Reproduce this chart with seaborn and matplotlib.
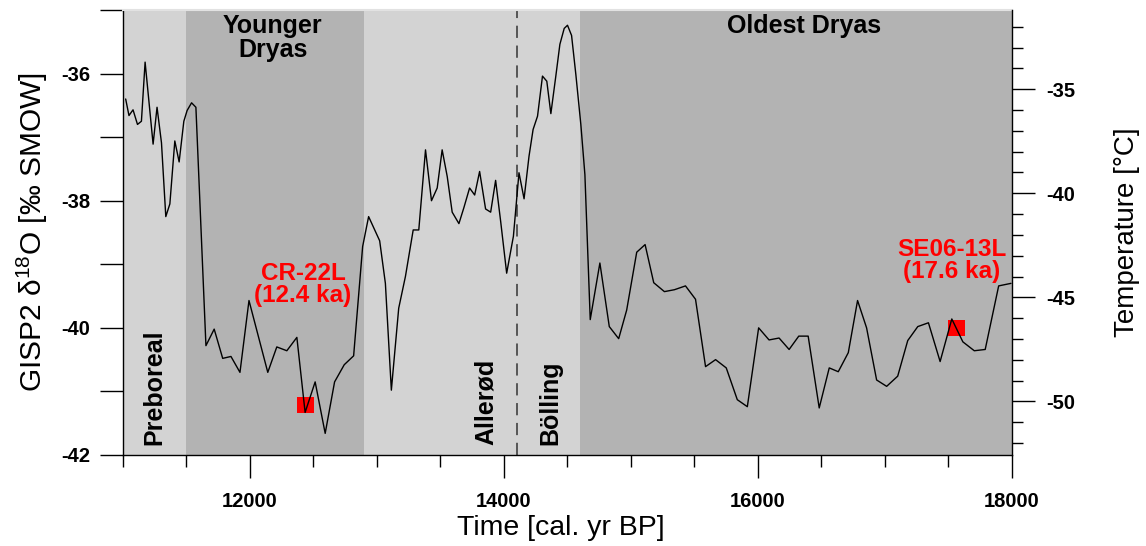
import matplotlib
matplotlib.use("Agg")
import matplotlib.pyplot as plt
from matplotlib.ticker import FixedLocator, MultipleLocator, NullFormatter
import seaborn as sns
import pandas as pd

# ---------------- data ----------------
ages = [11021, 11047, 11079, 11114, 11145, 11174, 11237, 11268, 11303, 11337,
        11369, 11408, 11442, 11479, 11505, 11540, 11574, 11653, 11718, 11785,
        11850, 11921, 11992, 12140, 12211, 12290, 12369, 12434, 12513, 12592,
        12666, 12742, 12816, 12887, 12934, 13021, 13066, 13113, 13171, 13224,
        13285, 13329, 13382, 13429, 13474, 13513, 13553, 13592, 13645, 13684,
        13729, 13769, 13808, 13855, 13895, 13934, 13974, 14021, 14074, 14118,
        14158, 14197, 14229, 14264, 14303, 14337, 14369, 14408, 14440, 14474,
        14500, 14532, 14566, 14605, 14637, 14679, 14755, 14829, 14903, 14966,
        15045, 15111, 15179, 15263, 15342, 15429, 15508, 15587, 15666, 15750,
        15837, 15916, 16005, 16087, 16166, 16245, 16321, 16395, 16482, 16561,
        16632, 16711, 16784, 16855, 16934, 17013, 17100, 17179, 17258, 17342,
        17434, 17526, 17613, 17703, 17789, 17895, 17992]
d18o = [-36.40, -36.66, -36.57, -36.80, -36.75, -35.82, -37.11, -36.53, -37.09, -38.25,
        -38.05, -37.06, -37.39, -36.75, -36.58, -36.46, -36.53, -40.28, -40.02, -40.48,
        -40.45, -40.70, -39.57, -40.70, -40.30, -40.36, -40.15, -41.33, -40.85, -41.66,
        -40.85, -40.58, -40.44, -38.72, -38.25, -38.63, -39.30, -40.98, -39.69, -39.19,
        -38.46, -38.46, -37.20, -38.00, -37.80, -37.20, -37.62, -38.18, -38.36, -38.11,
        -37.80, -37.91, -37.54, -38.13, -38.18, -37.68, -38.33, -39.14, -38.56, -37.56,
        -37.97, -37.30, -36.88, -36.67, -36.04, -36.12, -36.63, -36.04, -35.54, -35.29,
        -35.24, -35.40, -36.02, -36.80, -37.59, -39.87, -38.98, -39.98, -40.17, -39.72,
        -38.81, -38.69, -39.29, -39.43, -39.40, -39.34, -39.55, -40.61, -40.50, -40.63,
        -41.13, -41.24, -40.00, -40.19, -40.16, -40.34, -40.13, -40.13, -41.26, -40.63,
        -40.69, -40.39, -39.57, -40.00, -40.82, -40.92, -40.76, -40.20, -39.98, -39.92,
        -40.53, -39.86, -40.22, -40.36, -40.34, -39.34, -39.30]

sample_names = ["CR-22L\n(12.4 ka)", "SE06-13L\n(17.6 ka)"]
sample_ages = [12437, 17564]
sample_d18o = [-41.21, -40.00]
sample_label_pos = [(12418, -39.32), (17525, -38.94)]

# climate periods: (start, end, shade)
period_bounds = [11000, 11500, 12900, 14600, 18000]
period_shades = ["light", "dark", "light", "dark"]
allerod_bolling_boundary = 14100

x_ticks = [12000, 14000, 16000, 18000]
x_tick_labels = ["12000", "14000", "16000", "18000"]
y_ticks = [-42, -40, -38, -36]
y_tick_labels = ["-42", "-40", "-38", "-36"]
t_ticks = [-50, -45, -40, -35]
t_tick_labels = ["-50", "-45", "-40", "-35"]
temp_limits = (-52.58, -31.19)

# ---------------- style ----------------
sns.set_theme(style="white")
plt.rcParams["font.family"] = ["Liberation Sans", "DejaVu Sans"]
plt.rcParams["mathtext.fontset"] = "custom"
plt.rcParams["mathtext.rm"] = "Liberation Sans"
plt.rcParams["mathtext.it"] = "Liberation Sans:italic"
plt.rcParams["mathtext.bf"] = "Liberation Sans:bold"
for key in ["text.color", "axes.labelcolor", "xtick.color", "ytick.color"]:
    plt.rcParams[key] = "black"

shade_colors = {"light": "#d3d3d3", "dark": "#b3b3b3"}

fig = plt.figure(figsize=(11.46, 5.46), dpi=100)
ax = fig.add_axes([123 / 1146, 1 - 455 / 546, (1012 - 123) / 1146, 445 / 546])

for (x0, x1), shade in zip(zip(period_bounds[:-1], period_bounds[1:]), period_shades):
    ax.axvspan(x0, x1, color=shade_colors[shade], lw=0, zorder=0)

ax.axvline(allerod_bolling_boundary, color="#333333", lw=1.1, dashes=(8, 5), zorder=1)

df = pd.DataFrame({"age": ages, "d18o": d18o})
sns.lineplot(data=df, x="age", y="d18o", ax=ax, color="black", lw=1.0, zorder=3)

sdf = pd.DataFrame({"age": sample_ages, "d18o": sample_d18o})
sns.scatterplot(data=sdf, x="age", y="d18o", ax=ax, marker="s", s=140,
                color="#ff0000", edgecolor="none", linewidth=0, zorder=2)

for name, (tx, ty) in zip(sample_names, sample_label_pos):
    ax.text(tx, ty, name, color="#ff0000", fontsize=17.5, fontweight="bold",
            ha="center", va="center", linespacing=0.98, zorder=4)

# period labels
ax.text(12180, -35.07, "Younger\nDryas", fontsize=18, fontweight="bold",
        ha="center", va="top", linespacing=0.98)
ax.text(16366, -35.07, "Oldest Dryas", fontsize=18, fontweight="bold",
        ha="center", va="top")
for lbl, xc in [("Preboreal", 11250), ("Allerød", 13855), ("Bölling", 14368)]:
    ax.text(xc, -41.84, lbl, fontsize=18, fontweight="bold", rotation=90,
            ha="center", va="bottom")

ax.set_xlim(11000, 18000)
ax.set_ylim(-42, -35)

ax.xaxis.set_major_locator(FixedLocator(x_ticks))
ax.set_xticklabels(x_tick_labels, fontweight="bold", fontsize=14.5)
ax.xaxis.set_minor_locator(MultipleLocator(500))
ax.yaxis.set_major_locator(FixedLocator(y_ticks))
ax.set_yticklabels(y_tick_labels, fontweight="bold", fontsize=14.5)
ax.yaxis.set_minor_locator(MultipleLocator(1))
ax.yaxis.set_minor_formatter(NullFormatter())

ax.tick_params(axis="x", which="major", direction="out", length=16.5, width=1,
               color="black", pad=10, bottom=True)
ax.tick_params(axis="x", which="minor", direction="out", length=8.5, width=1,
               color="black", bottom=True)
ax.tick_params(axis="y", which="both", direction="out", length=16.5, width=1,
               color="black", pad=7, left=True)

ax.set_xlabel("Time [cal. yr BP]", fontsize=20.5)
ax.xaxis.set_label_coords(0.4925, -0.134)
ax.xaxis.label.set_va("top")
ax.set_ylabel(r"GISP2 δ$^{\mathrm{18}}$O [‰ SMOW]", fontsize=21.5, labelpad=8)

for side in ["left", "bottom"]:
    ax.spines[side].set_color("black")
    ax.spines[side].set_linewidth(1.0)
ax.spines["right"].set_visible(False)
ax.spines["top"].set_color("#e2e2e2")
ax.spines["top"].set_linewidth(1.5)

ax2 = ax.twinx()
ax2.set_ylim(*temp_limits)
ax2.yaxis.set_major_locator(FixedLocator(t_ticks))
ax2.set_yticklabels(t_tick_labels, fontweight="bold", fontsize=14.5)
ax2.yaxis.set_minor_locator(MultipleLocator(1))
ax2.yaxis.set_minor_formatter(NullFormatter())
ax2.tick_params(axis="y", which="major", direction="out", length=16.5, width=1,
                color="black", pad=8, right=True)
ax2.tick_params(axis="y", which="minor", direction="out", length=8, width=1,
                color="black", right=True)
ax2.set_ylabel("Temperature [°C]", fontsize=20, labelpad=28)
for side in ["left", "top", "bottom"]:
    ax2.spines[side].set_visible(False)
ax2.spines["right"].set_color("black")
ax2.spines["right"].set_linewidth(1.0)
ax2.grid(False)
ax.grid(False)

fig.savefig("out.png", dpi=100)
